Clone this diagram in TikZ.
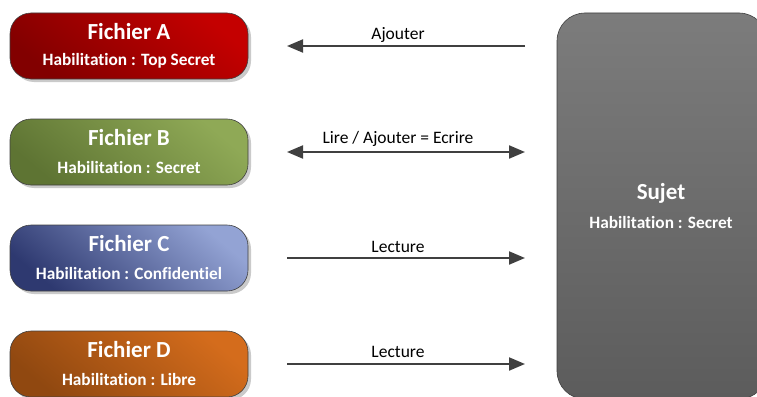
\documentclass[tikz,border=0pt]{standalone}
\usepackage{fontspec}
\setmainfont{Carlito}[Ligatures={NoCommon}]
\usetikzlibrary{arrows.meta,shadows}
\definecolor{lineg}{HTML}{404040}
\definecolor{aL}{HTML}{C40000}\definecolor{aD}{HTML}{820000}
\definecolor{bL}{HTML}{8FA956}\definecolor{bD}{HTML}{5E7433}
\definecolor{cL}{HTML}{93A3D4}\definecolor{cD}{HTML}{2E3970}
\definecolor{dL}{HTML}{D46C1C}\definecolor{dD}{HTML}{904810}
\definecolor{sL}{HTML}{7C7C7C}\definecolor{sD}{HTML}{5C5C5C}
\tikzset{
  filebox/.style n args={2}{rectangle, rounded corners=21pt, draw=lineg, line width=0.6pt,
     minimum width=238pt, minimum height=66pt, inner sep=0pt,
     top color=#1, bottom color=#2, shading angle=-40,
     drop shadow={shadow xshift=3pt, shadow yshift=-3pt, fill=black!35, opacity=0.6}},
  ftitle/.style={font=\fontsize{23}{23}\selectfont\bfseries, text=white, inner sep=0pt},
  fsub/.style={font=\fontsize{17.3}{17.3}\selectfont\bfseries, text=white, inner sep=0pt},
  arr/.style={draw=lineg, line width=2pt},
  tipa/.style={-{Triangle[length=16pt,width=13pt]}},
  lab/.style={font=\fontsize{17.5}{17.5}\selectfont, text=black, anchor=base, inner sep=0pt}
}
\begin{document}
\begin{tikzpicture}[x=1pt,y=-1pt]
\useasboundingbox (0,0) rectangle (757,396);
% Sujet
\begin{scope}
\clip (0,0) rectangle (757,396);
\node[rectangle, rounded corners=28pt, draw=lineg, line width=0.6pt, top color=sL, bottom color=sD,
  minimum width=210pt, minimum height=386pt, inner sep=0pt] (suj) at (662,206) {};
\end{scope}
\node[ftitle] (sujt) at (661,193) {Sujet};
\node[fsub] (sujs) at (661,222) {Habilitation : Secret};
% Files
\node[filebox={aL}{aD}] (fa) at (129,46) {};
\node[ftitle] (fat) at (129,32) {Fichier A};
\node[fsub] (fas) at (129,61) {Habilitation : Top Secret};
\node[filebox={bL}{bD}] (fb) at (129,152) {};
\node[ftitle] (fbt) at (129,138) {Fichier B};
\node[fsub] (fbs) at (129,167) {Habilitation : Secret};
\node[filebox={cL}{cD}] (fc) at (129,258) {};
\node[ftitle] (fct) at (129,244) {Fichier C};
\node[fsub] (fcs) at (129,273) {Habilitation : Confidentiel};
\node[filebox={dL}{dD}] (fd) at (129,364) {};
\node[ftitle] (fdt) at (129,350) {Fichier D};
\node[fsub] (fds) at (129,379) {Habilitation : Libre};
% arrow ends
\coordinate (la) at (287,46); \coordinate (ra) at (525,46);
\coordinate (lb) at (287,152); \coordinate (rb) at (525,152);
\coordinate (lc) at (287,258); \coordinate (rc) at (525,258);
\coordinate (ld) at (287,364); \coordinate (rd) at (525,364);
\draw[arr,tipa] (ra) -- (la);
\draw[arr,{Triangle[length=16pt,width=13pt]}-{Triangle[length=16pt,width=13pt]}] (lb) -- (rb);
\draw[arr,tipa] (lc) -- (rc);
\draw[arr,tipa] (ld) -- (rd);
\node[lab] (l1) at (398,40) {Ajouter};
\node[lab] (l2) at (398,143) {Lire / Ajouter = Ecrire};
\node[lab] (l3) at (398,252) {Lecture};
\node[lab] (l4) at (398,357) {Lecture};
\end{tikzpicture}
\end{document}
